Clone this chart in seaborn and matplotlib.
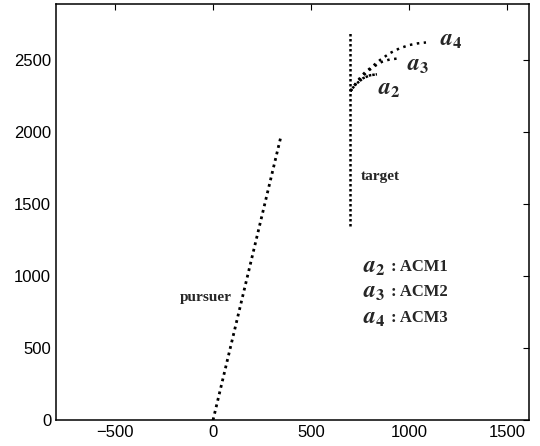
import matplotlib

matplotlib.use("Agg")

import matplotlib.pyplot as plt
import seaborn as sns

# pursuer path (start / end)
PURSUER_X = [0, 345]
PURSUER_Y = [0, 1965]

# target path (vertical)
TARGET_X = [700, 700]
TARGET_Y = [1350, 2700]

# estimated target trajectories
A2_X = [700, 725, 765, 800, 835]
A2_Y = [2285, 2330, 2375, 2395, 2402]
A3_X = [700, 730, 760, 790, 825, 860, 900, 950]
A3_Y = [2285, 2340, 2385, 2425, 2460, 2488, 2505, 2513]
A4_X = [700, 735, 770, 810, 850, 900, 950, 1000, 1040, 1085]
A4_Y = [2285, 2355, 2410, 2455, 2500, 2548, 2582, 2605, 2616, 2623]

X_TICKS = [-500, 0, 500, 1000, 1500]
Y_TICKS = [0, 500, 1000, 1500, 2000, 2500]

A2_SYM = r"$\mathbfit{a}_\mathbf{2}$"
A3_SYM = r"$\mathbfit{a}_\mathbf{3}$"
A4_SYM = r"$\mathbfit{a}_\mathbf{4}$"
LEGEND_ROWS = [(A2_SYM, "ACM1"), (A3_SYM, "ACM2"), (A4_SYM, "ACM3")]


def setup_theme() -> None:
    sns.set_theme(style="white")
    plt.rcParams["font.family"] = ["Liberation Sans", "DejaVu Sans"]
    plt.rcParams["mathtext.fontset"] = "stix"
    plt.rcParams["axes.edgecolor"] = "black"
    plt.rcParams["axes.linewidth"] = 1.1
    plt.rcParams["xtick.direction"] = "in"
    plt.rcParams["ytick.direction"] = "in"


def dotted(ax, xs, ys, lw, pattern) -> None:
    sns.lineplot(x=xs, y=ys, ax=ax, sort=False, estimator=None, color="black",
                 linewidth=lw, linestyle=(0, pattern), dash_capstyle="butt")


def main() -> None:
    setup_theme()
    fig = plt.figure(figsize=(5.4, 4.46), dpi=100)
    ax = fig.add_axes([0.1037, 0.058, 0.876, 0.933])

    dotted(ax, PURSUER_X, PURSUER_Y, 2.0, (1, 1.4))
    dotted(ax, TARGET_X, TARGET_Y, 1.8, (1, 1.0))
    dotted(ax, A2_X, A2_Y, 1.8, (1, 0.4))
    dotted(ax, A3_X, A3_Y, 1.8, (1, 1.8))
    dotted(ax, A4_X, A4_Y, 1.8, (1, 1.8))

    serif = ["Liberation Serif", "DejaVu Serif"]
    ax.text(755, 1692, "target", family=serif, fontweight="bold", fontsize=11,
            ha="left", va="center")
    ax.text(97, 850, "pursuer", family=serif, fontweight="bold", fontsize=11,
            ha="right", va="center")
    ax.text(1158, 2640, A4_SYM, fontsize=17, ha="left", va="center")
    ax.text(990, 2465, A3_SYM, fontsize=17, ha="left", va="center")
    ax.text(842, 2300, A2_SYM, fontsize=17, ha="left", va="center")

    for (sym, name), y in zip(LEGEND_ROWS, [1065, 891, 710]):
        ax.text(765, y, sym, fontsize=17, ha="left", va="center")
        ax.text(905, y, ": " + name, family=serif, fontweight="bold",
                fontsize=12, ha="left", va="center")

    ax.set_xlim(-800, 1610)
    ax.set_ylim(0, 2890)
    ax.set_xticks(X_TICKS)
    ax.set_yticks(Y_TICKS)
    ax.tick_params(axis="both", which="both", labelsize=12, length=4, width=0.8,
                   top=True, right=True, colors="black")
    ax.set_xlabel("")
    ax.set_ylabel("")
    for side in ax.spines.values():
        side.set_visible(True)
        side.set_color("black")

    fig.savefig("out.png", dpi=100, facecolor="white")
    plt.close(fig)


if __name__ == "__main__":
    main()
